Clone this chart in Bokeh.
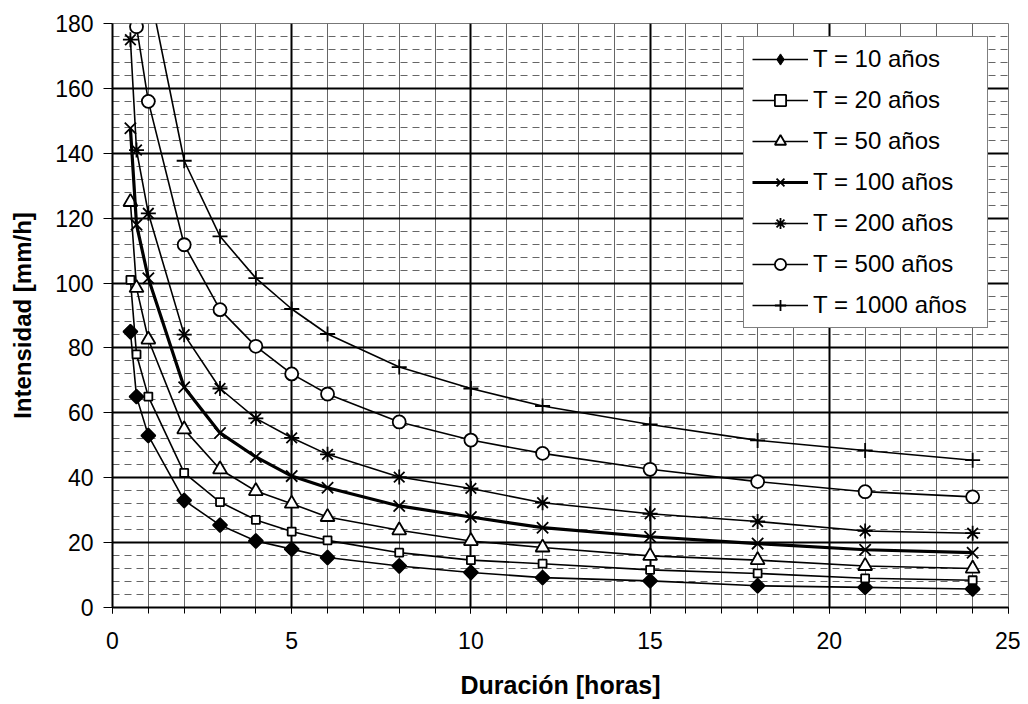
import math
from bokeh.plotting import figure
from bokeh.models import SingleIntervalTicker, FixedTicker, Grid, Legend, LegendItem
from bokeh.embed import file_html
from bokeh.resources import INLINE

# ---- data ----
duracion = [0.5, 0.67, 1, 2, 3, 4, 5, 6, 8, 10, 12, 15, 18, 21, 24]
t10 = [85, 65, 53, 33, 25.4, 20.5, 18, 15.4, 12.8, 10.8, 9.2, 8.2, 6.7, 6.2, 5.7]
t20 = [101, 78, 65, 41.5, 32.5, 27, 23.4, 20.7, 16.9, 14.6, 13.5, 11.6, 10.5, 9.0, 8.4]
t50 = [125, 98.5, 82.6, 54.9, 42.6, 35.9, 32, 27.9, 23.8, 20.5, 18.5, 15.9, 14.6, 12.8, 12.0]
t100 = [147.7, 118, 101.5, 67.9, 53.8, 46.4, 40.5, 36.9, 31.3, 27.9, 24.6, 21.8, 19.7, 17.8, 16.9]
t200 = [175, 141, 121.5, 84.1, 67.5, 58.3, 52.3, 47.2, 40.2, 36.7, 32.3, 28.9, 26.5, 23.6, 22.9]
t500 = [215, 179, 156, 111.8, 91.8, 80.5, 72, 65.8, 57.2, 51.6, 47.5, 42.6, 38.8, 35.7, 34.1]
t1000 = [268, 222, 192, 137.7, 114.4, 101.5, 92, 84.3, 74.1, 67.5, 62.1, 56.4, 51.5, 48.4, 45.4]

labels = ["T = 10 años", "T = 20 años", "T = 50 años", "T = 100 años",
          "T = 200 años", "T = 500 años", "T = 1000 años"]

x_major = [5, 10, 15, 20]
x_minor = [v for v in range(1, 25) if v % 5 != 0]
y_major = [20, 40, 60, 80, 100, 120, 140, 160]
y_minor = [v for v in range(4, 180, 4) if v % 20 != 0]

FONT = "Liberation Sans"

p = figure(width=1020, height=704, x_range=(0, 25), y_range=(0, 180),
           output_backend="svg", toolbar_location=None,
           min_border_left=112, min_border_right=12, min_border_top=23,
           min_border_bottom=97, background_fill_color="white",
           border_fill_color="white")

p.outline_line_color = "#777777"
p.outline_line_width = 1

p.xgrid.visible = False
p.ygrid.visible = False

# grids
p.add_layout(Grid(dimension=0, ticker=FixedTicker(ticks=x_minor),
                  grid_line_color="#666666", grid_line_width=1))
p.add_layout(Grid(dimension=1, ticker=FixedTicker(ticks=y_minor),
                  grid_line_color="#666666", grid_line_width=1,
                  grid_line_dash="7 5"))
p.add_layout(Grid(dimension=0, ticker=FixedTicker(ticks=x_major),
                  grid_line_color="black", grid_line_width=2))
p.add_layout(Grid(dimension=1, ticker=FixedTicker(ticks=y_major),
                  grid_line_color="black", grid_line_width=2))

# axes
xa = p.xaxis[0]
xa.ticker = SingleIntervalTicker(interval=5, num_minor_ticks=5)
xa.axis_line_width = 2
xa.major_tick_in = 0
xa.major_tick_out = 6
xa.minor_tick_in = 0
xa.minor_tick_out = 6
xa.major_tick_line_width = 1
xa.minor_tick_line_width = 1
xa.major_label_text_font = FONT
xa.major_label_text_font_size = "23px"
xa.major_label_text_color = "black"
xa.major_label_standoff = 18
xa.axis_label = "Duración [horas]"
xa.axis_label_text_font = FONT
xa.axis_label_text_font_style = "bold"
xa.axis_label_text_font_size = "25px"
xa.axis_label_text_color = "black"
xa.axis_label_standoff = 19

ya = p.yaxis[0]
ya.ticker = SingleIntervalTicker(interval=20, num_minor_ticks=0)
ya.axis_line_width = 2
ya.major_tick_in = 0
ya.major_tick_out = 9
ya.minor_tick_out = 0
ya.major_tick_line_width = 1
ya.major_label_text_font = FONT
ya.major_label_text_font_size = "23px"
ya.major_label_text_color = "black"
ya.major_label_standoff = 10
ya.axis_label = "Intensidad [mm/h]"
ya.axis_label_text_font = FONT
ya.axis_label_text_font_style = "bold"
ya.axis_label_text_font_size = "24px"
ya.axis_label_text_color = "black"
ya.axis_label_standoff = 16

# (values, label, marker, size, fill, line width, marker angle, legend marker, legend size)
series = [
    (t10, labels[0], "square", 10, "black", 1.6, math.pi / 4, "diamond", 13),
    (t20, labels[1], "square", 8, "white", 1.6, 0.0, None, None),
    (t50, labels[2], "triangle", 14, "white", 1.6, 0.0, None, None),
    (t100, labels[3], "x", 16, None, 3.2, 0.0, None, None),
    (t200, labels[4], "asterisk", 15, None, 1.6, 0.0, None, None),
    (t500, labels[5], "circle", 13, "white", 1.6, 0.0, None, None),
    (t1000, labels[6], "cross", 15, None, 1.6, 0.0, None, None),
]

items = []
for vals, lab, mk, sz, fill, lw, ang, lmk, lsz in series:
    r1 = p.line(duracion, vals, line_color="black", line_width=lw)
    if lmk is not None:
        # upright diamond hidden under the rotated square; used for the legend glyph
        r_leg = p.scatter(duracion, vals, marker=lmk, size=lsz, line_color="black",
                          fill_color=fill, line_width=1)
    kw = dict(marker=mk, size=sz, line_color="black", line_width=1.8, angle=ang)
    if fill is not None:
        kw["fill_color"] = fill
    r2 = p.scatter(duracion, vals, **kw)
    if lmk is not None:
        r2 = r_leg
    items.append(LegendItem(label=lab, renderers=[r1, r2]))

legend = Legend(items=items, location=(631, 279),
                label_text_font=FONT, label_text_font_size="24px",
                label_text_color="black",
                glyph_width=56, glyph_height=28, label_height=28,
                label_width=166,
                label_standoff=5, spacing=13, padding=8, margin=0,
                border_line_color="black", border_line_width=1,
                background_fill_color="white", background_fill_alpha=1.0)
p.add_layout(legend, "center")

open("out.html", "w").write(file_html(p, INLINE))
